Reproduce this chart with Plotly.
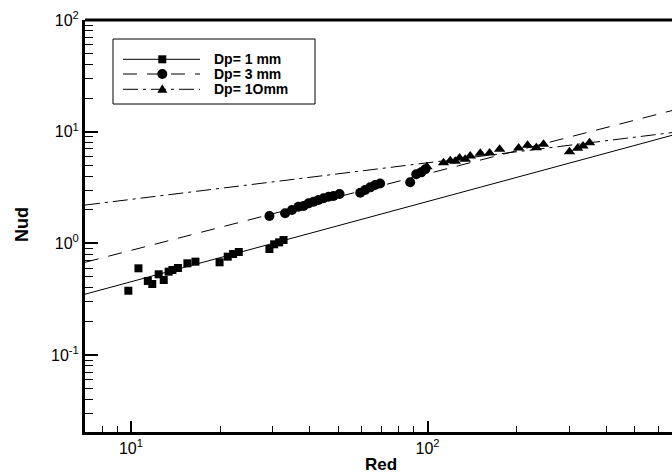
import math
import plotly.graph_objects as go

# ---------------- data ----------------
re_1mm = [9.8, 10.6, 11.4, 11.8, 12.4, 12.9, 13.4, 13.8, 14.4, 15.5, 16.5,
          19.9, 21.2, 22.1, 23.1, 29.3, 30.4, 31.6, 32.7]
nu_1mm = [0.376, 0.597, 0.46, 0.432, 0.528, 0.469, 0.557, 0.577, 0.601, 0.662, 0.685,
          0.676, 0.759, 0.802, 0.836, 0.889, 0.98, 1.02, 1.07]

re_3mm = [29.3, 33.1, 34.9, 36.7, 38.2, 39.7, 41.3, 42.9, 44.6, 46.4, 48.2, 50.5,
          59.3, 61.6, 64.1, 66.6, 69.2, 87.4, 91.6, 95.2, 98.3]
nu_3mm = [1.755, 1.856, 1.987, 2.127, 2.158, 2.28, 2.357, 2.44, 2.53, 2.61, 2.65, 2.76,
          2.84, 3.0, 3.17, 3.33, 3.43, 3.52, 4.15, 4.32, 4.6]

re_10mm = [99.5, 113.2, 119.3, 124.0, 128.2, 134.0, 139.3, 150.6, 161.9, 175.0,
           202.8, 217.4, 232.6, 246.0, 301.0, 320.5, 334.3, 351.7]
nu_10mm = [4.85, 5.27, 5.49, 5.42, 5.80, 5.65, 6.05, 6.39, 6.43, 6.94,
           7.13, 7.54, 7.17, 7.7, 6.61, 7.09, 7.43, 7.95]

# correlation lines (end points read at the plot edges, extended a bit past the cut)
fit_re = [7, 1000]
fit_1mm = [0.35, 12.4]
fit_3mm = [0.676, 20.4]
fit_10mm = [2.2, 11.2]

legend_labels = ["Dp= 1 mm", "Dp= 3 mm", "Dp= 1Omm"]

x_tickvals = [10, 100]
x_ticktext = ["10<sup>1</sup>", "10<sup>2</sup>"]
y_tickvals = [0.1, 1, 10, 100]
y_ticktext = ["10<sup>-1</sup>", "10<sup>0</sup>", "10<sup>1</sup>", "10<sup>2</sup>"]
x_minor = [8, 9, 20, 30, 40, 50, 60, 70, 80, 90, 200, 300, 400, 500, 600, 700, 800, 900]
y_minor = [0.03, 0.04, 0.05, 0.06, 0.07, 0.08, 0.09,
           0.2, 0.3, 0.4, 0.5, 0.6, 0.7, 0.8, 0.9,
           2, 3, 4, 5, 6, 7, 8, 9,
           20, 30, 40, 50, 60, 70, 80, 90]

# ---------------- styles ----------------
FONT = "Liberation Sans, Arial, sans-serif"
DASH_3 = "14px,10px"
DASH_10 = "15px,5px,3px,5px"
W, H = 760, 474          # wider than the window: right edge is cut off like the reference
ML, MR, MT, MB = 85, 0, 20, 42
X_LO = math.log10(7)
X_HI = X_LO + (W - ML - MR) / 296.6   # 296.6 px per decade as in the reference

fig = go.Figure()

# fit lines
fig.add_trace(go.Scatter(x=fit_re, y=fit_1mm, mode="lines",
                         line=dict(color="black", width=1), showlegend=False))
fig.add_trace(go.Scatter(x=fit_re, y=fit_3mm, mode="lines",
                         line=dict(color="black", width=1, dash=DASH_3), showlegend=False))
fig.add_trace(go.Scatter(x=fit_re, y=fit_10mm, mode="lines",
                         line=dict(color="black", width=1, dash=DASH_10), showlegend=False))

# data points
fig.add_trace(go.Scatter(x=re_1mm, y=nu_1mm, mode="markers",
                         marker=dict(symbol="square", size=8, color="black"), showlegend=False))
fig.add_trace(go.Scatter(x=re_3mm, y=nu_3mm, mode="markers",
                         marker=dict(symbol="circle", size=10, color="black"), showlegend=False))
fig.add_trace(go.Scatter(x=re_10mm, y=nu_10mm, mode="markers",
                         marker=dict(symbol="triangle-up", size=10, color="black"), showlegend=False))

# ---------------- custom legend ----------------
pw = W - ML - MR
ph = H - MT - MB


def px_x(p):
    return (p - ML) / pw


def px_y(p):
    return (H - MB - p) / ph


# top frame line
fig.add_shape(type="line", xref="paper", yref="paper", x0=0, x1=1, y0=1, y1=1,
              line=dict(color="black", width=3), layer="above")

box = dict(x0=px_x(113), x1=px_x(315), y0=px_y(104), y1=px_y(39))
fig.add_shape(type="rect", xref="paper", yref="paper", **box,
              line=dict(color="black", width=1), fillcolor="white", layer="below")

rows_y = [59.3, 74, 89.3]
dashes = ["solid", DASH_3, DASH_10]
mx = px_x(162.3)
for ry, d, lab in zip(rows_y, dashes, legend_labels):
    fig.add_shape(type="line", xref="paper", yref="paper",
                  x0=px_x(123), x1=px_x(200), y0=px_y(ry), y1=px_y(ry),
                  line=dict(color="black", width=1, dash=d), layer="above")
    fig.add_annotation(x=px_x(213), y=px_y(ry), xref="paper", yref="paper",
                       text=lab, showarrow=False, xanchor="left", yanchor="middle",
                       borderpad=0,
                       font=dict(family=FONT, size=14, color="black", weight="bold"))

# legend marker glyphs
pix = dict(xref="paper", yref="paper", xsizemode="pixel", ysizemode="pixel",
           fillcolor="black", line=dict(color="black", width=0), layer="above")
fig.add_shape(type="rect", xanchor=mx, yanchor=px_y(rows_y[0]),
              x0=-4, x1=4, y0=-4, y1=4, **pix)
fig.add_shape(type="circle", xanchor=mx, yanchor=px_y(rows_y[1]),
              x0=-5, x1=5, y0=-5, y1=5, **pix)
fig.add_shape(type="path", xanchor=mx, yanchor=px_y(rows_y[2]),
              path="M -5,-3.5 L 5,-3.5 L 0,5 Z", **pix)

# axis titles
fig.add_annotation(x=px_x(381), y=px_y(464), xref="paper", yref="paper",
                   text="Red", showarrow=False, xanchor="center", yanchor="middle",
                   font=dict(family=FONT, size=17, color="black", weight="bold"))
fig.add_annotation(x=px_x(22), y=px_y(225), xref="paper", yref="paper",
                   text="Nud", showarrow=False, textangle=-90,
                   xanchor="center", yanchor="middle",
                   font=dict(family=FONT, size=18, color="black", weight="bold"))

fig.update_layout(
    width=W, height=H,
    margin=dict(l=ML, r=MR, t=MT, b=MB),
    paper_bgcolor="white", plot_bgcolor="white",
    showlegend=False, hovermode=False,
    font=dict(family=FONT, size=16, color="black"),
    xaxis=dict(type="log", range=[X_LO, X_HI],
               showgrid=False, zeroline=False,
               showline=True, linecolor="black", linewidth=3, mirror=False,
               ticks="inside", ticklen=11, tickwidth=2, tickcolor="black",
               tickvals=x_tickvals, ticktext=x_ticktext,
               tickfont=dict(family=FONT, size=16, color="black"),
               minor=dict(ticks="inside", ticklen=6, tickwidth=1, tickcolor="black",
                          tickvals=x_minor, showgrid=False)),
    yaxis=dict(type="log", range=[-1.69, 2.0],
               showgrid=False, zeroline=False,
               showline=True, linecolor="black", linewidth=3, mirror=False,
               ticks="inside", ticklen=13, tickwidth=2, tickcolor="black",
               tickvals=y_tickvals, ticktext=y_ticktext,
               tickfont=dict(family=FONT, size=16, color="black"),
               minor=dict(ticks="inside", ticklen=8, tickwidth=1, tickcolor="black",
                          tickvals=y_minor, showgrid=False)),
)

fig.write_html("out.html", config={"displayModeBar": False, "staticPlot": True},
               post_script="document.body.style.margin='0px';"
                           "document.body.style.overflow='hidden';"
                           "document.documentElement.style.overflow='hidden';")
